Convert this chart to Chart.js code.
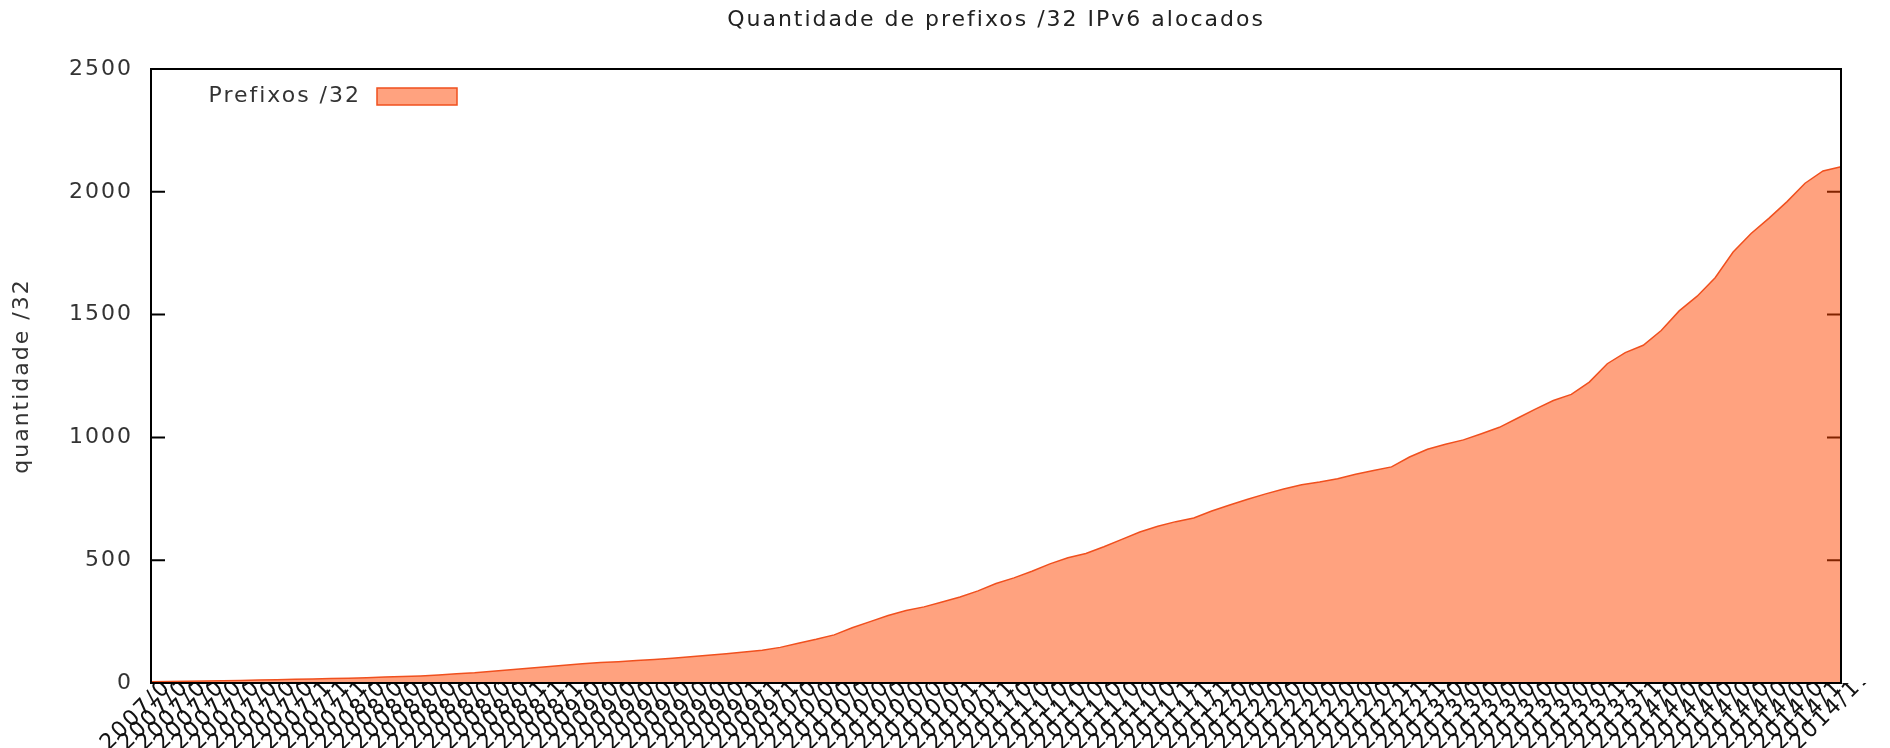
<!DOCTYPE html>
<html>
<head>
<meta charset="utf-8">
<script src="https://cdn.jsdelivr.net/npm/chart.js@4/dist/chart.umd.min.js"></script>
<style>
  html, body { margin: 0; padding: 0; background: #fff; }
  #wrap { width: 1890px; height: 748px; }
</style>
</head>
<body>
<div id="wrap"><canvas id="prefixosChart" width="1890" height="748"></canvas></div>
<script>
// meses (eixo x)
const meses = [
  "2007/01","2007/02","2007/03","2007/04","2007/05","2007/06","2007/07","2007/08","2007/09","2007/10","2007/11","2007/12",
  "2008/01","2008/02","2008/03","2008/04","2008/05","2008/06","2008/07","2008/08","2008/09","2008/10","2008/11","2008/12",
  "2009/01","2009/02","2009/03","2009/04","2009/05","2009/06","2009/07","2009/08","2009/09","2009/10","2009/11","2009/12",
  "2010/01","2010/02","2010/03","2010/04","2010/05","2010/06","2010/07","2010/08","2010/09","2010/10","2010/11","2010/12",
  "2011/01","2011/02","2011/03","2011/04","2011/05","2011/06","2011/07","2011/08","2011/09","2011/10","2011/11","2011/12",
  "2012/01","2012/02","2012/03","2012/04","2012/05","2012/06","2012/07","2012/08","2012/09","2012/10","2012/11","2012/12",
  "2013/01","2013/02","2013/03","2013/04","2013/05","2013/06","2013/07","2013/08","2013/09","2013/10","2013/11","2013/12",
  "2014/01","2014/02","2014/03","2014/04","2014/05","2014/06","2014/07","2014/08","2014/09","2014/10","2014/11"
];

// quantidade de prefixos /32 alocados
const prefixos = [
  5, 6, 7, 8, 9, 10, 12, 13, 15, 16, 18, 19,
  21, 24, 26, 29, 33, 38, 42, 48, 54, 60, 66, 72,
  78, 83, 87, 92, 96, 101, 107, 113, 119, 126, 133, 145,
  162, 178, 196, 225, 250, 275, 295, 310, 330, 350, 375, 405,
  428, 455, 485, 510, 527, 555, 585, 615, 638, 657, 672, 700,
  725, 748, 770, 790, 807, 818, 832, 850, 865, 880, 920, 952,
  972, 990, 1015, 1041, 1078, 1115, 1150, 1175, 1225, 1300, 1345, 1375,
  1435, 1515, 1575, 1650, 1755, 1830, 1893, 1960, 2035, 2085, 2102
];

const yTicks = [0, 500, 1000, 1500, 2000, 2500];

const FONT = "'DejaVu Sans', sans-serif";
const fillColor = "rgba(255,69,0,0.5)";
const lineColor = "rgb(240,80,30)";

// espaçamento das letras como no gnuplot
const spacing = {
  id: "spacing",
  beforeDraw(chart) { chart.ctx.letterSpacing = "2px"; }
};

// ticks para dentro (esquerda e direita) — desenhados antes da área
const innerTicks = {
  id: "innerTicks",
  beforeDatasetsDraw(chart) {
    const { ctx, chartArea: a, scales: { y } } = chart;
    ctx.save();
    ctx.strokeStyle = "#000";
    ctx.lineWidth = 2;
    yTicks.forEach(v => {
      const py = y.getPixelForValue(v);
      ctx.beginPath();
      ctx.moveTo(a.left, py); ctx.lineTo(a.left + 14, py);
      ctx.moveTo(a.right, py); ctx.lineTo(a.right - 14, py);
      ctx.stroke();
    });
    ctx.restore();
  },
  afterDatasetsDraw(chart) {
    const { ctx, chartArea: a } = chart;
    ctx.save();
    ctx.strokeStyle = "#000";
    ctx.lineWidth = 2;
    ctx.strokeRect(a.left, a.top, a.right - a.left, a.bottom - a.top);
    ctx.restore();
  }
};

// título, rótulo do eixo y e legenda
const textos = {
  id: "textos",
  afterDraw(chart) {
    const { ctx, chartArea: a } = chart;
    ctx.save();
    ctx.letterSpacing = "2px";
    ctx.font = "22px " + FONT;
    ctx.fillStyle = "#222";
    ctx.textAlign = "center";
    ctx.textBaseline = "middle";
    ctx.fillText("Quantidade de prefixos /32 IPv6 alocados", (a.left + a.right) / 2, 20);

    ctx.save();
    ctx.translate(22, (a.top + a.bottom) / 2);
    ctx.rotate(-Math.PI / 2);
    ctx.fillStyle = "#333";
    ctx.fillText("quantidade /32", 0, 0);
    ctx.restore();

    ctx.fillStyle = "#333";
    ctx.textAlign = "right";
    ctx.fillText("Prefixos /32", a.left + 210, a.top + 27);
    ctx.fillStyle = fillColor;
    ctx.fillRect(a.left + 226, a.top + 19, 80, 17);
    ctx.strokeStyle = lineColor;
    ctx.lineWidth = 1.5;
    ctx.strokeRect(a.left + 226, a.top + 19, 80, 17);
    ctx.restore();
  }
};

new Chart(document.getElementById("prefixosChart"), {
  type: "line",
  data: {
    labels: meses,
    datasets: [{
      label: "Prefixos /32",
      data: prefixos,
      fill: "origin",
      backgroundColor: fillColor,
      borderColor: lineColor,
      borderWidth: 1.5,
      pointRadius: 0,
      tension: 0
    }]
  },
  options: {
    responsive: false,
    animation: false,
    layout: { padding: { top: 69, right: 49, left: 0, bottom: 0 } },
    plugins: {
      legend: { display: false },
      title: { display: false },
      tooltip: { enabled: false }
    },
    scales: {
      x: {
        offset: false,
        grid: { display: false, drawTicks: false },
        border: { display: false },
        ticks: {
          autoSkip: false,
          minRotation: 45,
          maxRotation: 45,
          padding: -20,
          labelOffset: 28,
          color: "#111",
          font: { family: FONT, size: 22 }
        },
        afterFit(scale) {
          scale.height = 65;
          scale.paddingLeft = 0;
          scale.paddingRight = 0;
        }
      },
      y: {
        min: 0,
        max: 2500,
        grid: { display: false, drawTicks: false },
        border: { display: false },
        afterBuildTicks(scale) { scale.ticks = yTicks.map(v => ({ value: v })); },
        ticks: {
          padding: 18,
          color: "#333",
          font: { family: FONT, size: 22 },
          callback: v => String(v)
        },
        afterFit(scale) {
          scale.width = 151;
          scale.paddingTop = 0;
          scale.paddingBottom = 0;
        }
      }
    }
  },
  plugins: [spacing, innerTicks, textos]
});
</script>
</body>
</html>
